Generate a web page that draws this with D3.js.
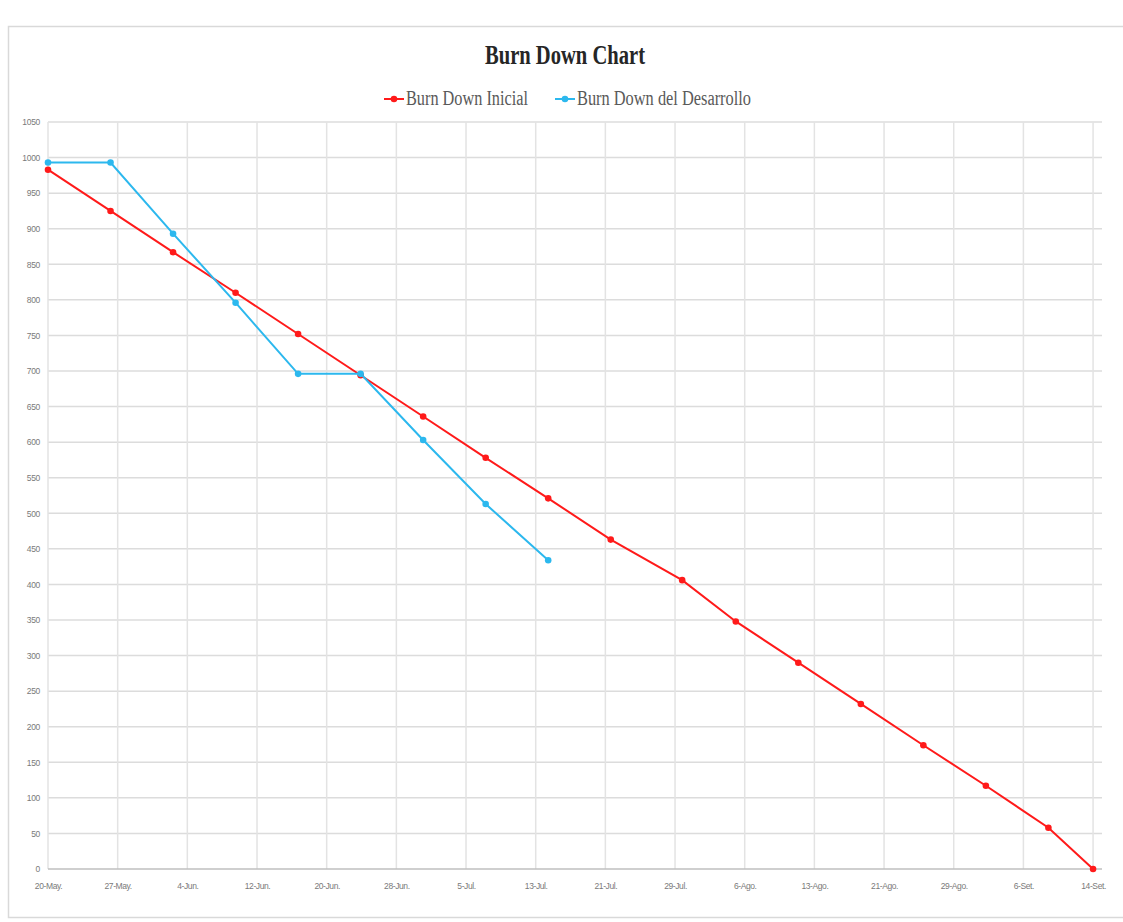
<!DOCTYPE html>
<html>
<head>
<meta charset="utf-8">
<script src="https://cdn.jsdelivr.net/npm/d3@7"></script>
<style>
  html, body { margin: 0; padding: 0; background: #ffffff; }
  svg { display: block; }
</style>
</head>
<body>
<svg id="chart" width="1123" height="922"></svg>
<script>
// ---- data ----
const initialDates = ["2019-05-20","2019-05-27","2019-06-03","2019-06-10","2019-06-17","2019-06-24",
  "2019-07-01","2019-07-08","2019-07-15","2019-07-22","2019-07-30","2019-08-05","2019-08-12",
  "2019-08-19","2019-08-26","2019-09-02","2019-09-09","2019-09-14"];
const initialValues = [983, 925, 867, 810, 752, 694, 636, 578, 521, 463, 406, 348, 290, 232, 174, 117, 58, 0];

const devDates = ["2019-05-20","2019-05-27","2019-06-03","2019-06-10","2019-06-17","2019-06-24",
  "2019-07-01","2019-07-08","2019-07-15"];
const devValues = [993, 993, 893, 796, 696, 696, 603, 513, 434];

const xTickLabels = ["20-May.","27-May.","4-Jun.","12-Jun.","20-Jun.","28-Jun.","5-Jul.","13-Jul.",
  "21-Jul.","29-Jul.","6-Ago.","13-Ago.","21-Ago.","29-Ago.","6-Set.","14-Set."];
const yTicks = [0,50,100,150,200,250,300,350,400,450,500,550,600,650,700,750,800,850,900,950,1000,1050];

const seriesNames = ["Burn Down Inicial", "Burn Down del Desarrollo"];
const seriesColors = ["#ff1a1a", "#2cb8ee"];

// ---- layout ----
const svg = d3.select("#chart");
const parse = d3.utcParse("%Y-%m-%d");
const axisStart = parse("2019-05-20");
const axisLast = parse("2019-09-14");
const axisEnd = parse("2019-09-15");

const x = d3.scaleUtc().domain([axisStart, axisEnd]).range([48, 1102]);
const y = d3.scaleLinear().domain([0, 1050]).range([869, 122]);

// outer frame
svg.append("rect")
  .attr("x", 8.5).attr("y", 26.5).attr("width", 1125).attr("height", 891)
  .attr("fill", "#ffffff").attr("stroke", "#d9d9d9").attr("stroke-width", 1.5);

// evenly spaced category ticks across the date span
const tickDates = xTickLabels.map((d, i) =>
  new Date(+axisStart + (axisLast - axisStart) * i / (xTickLabels.length - 1)));

const grid = svg.append("g");
grid.selectAll("line.h").data(yTicks.filter(d => d > 0)).join("line")
  .attr("class", "h")
  .attr("x1", x(axisStart)).attr("x2", x(axisEnd))
  .attr("y1", d => y(d)).attr("y2", d => y(d))
  .attr("stroke", "#dcdcdc").attr("stroke-width", 1.5);
grid.selectAll("line.v").data(tickDates).join("line")
  .attr("class", "v")
  .attr("x1", d => x(d)).attr("x2", d => x(d))
  .attr("y1", y(1050)).attr("y2", y(0))
  .attr("stroke", "#e3e3e3").attr("stroke-width", 1.5);

// x axis baseline
svg.append("line")
  .attr("x1", x(axisStart)).attr("x2", x(axisEnd))
  .attr("y1", y(0)).attr("y2", y(0))
  .attr("stroke", "#bfbfbf").attr("stroke-width", 1.5);

// y axis labels
const yAxis = d3.axisLeft(y).tickValues(yTicks).tickFormat(d3.format("d"))
  .tickSize(0).tickPadding(8);
const gy = svg.append("g").attr("transform", `translate(${x(axisStart)},0)`).call(yAxis);
gy.select(".domain").remove();
gy.selectAll("text")
  .attr("font-family", "'Liberation Sans', Arial, sans-serif")
  .attr("font-size", 8.5).attr("fill", "#7a7a7a")
  .attr("letter-spacing", -0.3);

// x axis labels
const xAxis = d3.axisBottom(x).tickValues(tickDates)
  .tickFormat((d, i) => xTickLabels[i]).tickSize(0).tickPadding(14);
const gx = svg.append("g").attr("transform", `translate(0,${y(0)})`).call(xAxis);
gx.select(".domain").remove();
gx.selectAll("text")
  .attr("font-family", "'Liberation Sans', Arial, sans-serif")
  .attr("font-size", 8.5).attr("fill", "#7a7a7a")
  .attr("letter-spacing", -0.4);

// series
const series = [
  { name: seriesNames[0], color: seriesColors[0],
    points: initialDates.map((d, i) => ({ date: parse(d), value: initialValues[i] })) },
  { name: seriesNames[1], color: seriesColors[1],
    points: devDates.map((d, i) => ({ date: parse(d), value: devValues[i] })) }
];

const line = d3.line().x(d => x(d.date)).y(d => y(d.value));
const marker = d3.symbol().type(d3.symbolCircle).size(34);

series.forEach(s => {
  const g = svg.append("g");
  g.append("path").datum(s.points)
    .attr("d", line).attr("fill", "none")
    .attr("stroke", s.color).attr("stroke-width", 2);
  g.selectAll("path.m").data(s.points).join("path")
    .attr("class", "m")
    .attr("d", marker)
    .attr("transform", d => `translate(${x(d.date)},${y(d.value)})`)
    .attr("fill", s.color);
});

// title
svg.append("text")
  .attr("x", 565).attr("y", 64)
  .attr("text-anchor", "middle")
  .attr("font-family", "'Liberation Serif', 'Times New Roman', serif")
  .attr("font-weight", "bold").attr("font-size", 27)
  .attr("textLength", 160).attr("lengthAdjust", "spacingAndGlyphs")
  .attr("fill", "#262626")
  .text("Burn Down Chart");

// legend
const legendItems = [
  { x: 384, textX: 406, width: 122 },
  { x: 555, textX: 577, width: 174 }
];
legendItems.forEach((it, i) => {
  const g = svg.append("g");
  g.append("line")
    .attr("x1", it.x).attr("x2", it.x + 20)
    .attr("y1", 99).attr("y2", 99)
    .attr("stroke", seriesColors[i]).attr("stroke-width", 2);
  g.append("path")
    .attr("d", marker)
    .attr("transform", `translate(${it.x + 10},99)`)
    .attr("fill", seriesColors[i]);
  g.append("text")
    .attr("x", it.textX).attr("y", 105)
    .attr("font-family", "'Liberation Serif', 'Times New Roman', serif")
    .attr("font-size", 20)
    .attr("textLength", it.width).attr("lengthAdjust", "spacingAndGlyphs")
    .attr("fill", "#595959")
    .text(seriesNames[i]);
});
</script>
</body>
</html>
